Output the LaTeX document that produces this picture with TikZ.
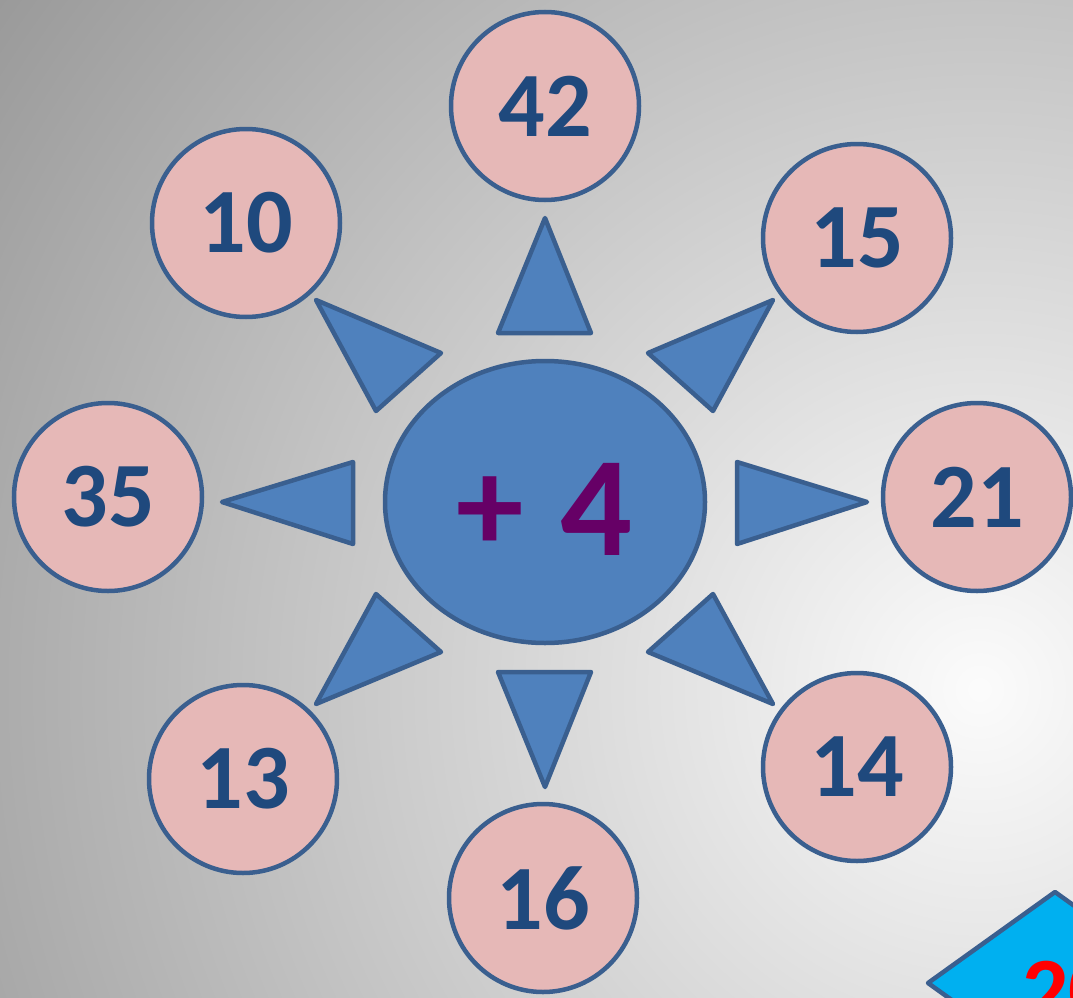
\documentclass[tikz,border=0pt]{standalone}
\usepackage{fontspec}
\setmainfont{Carlito}
\usepackage{tikz}
\usetikzlibrary{positioning,calc,shapes.geometric}

\definecolor{bgdark}{RGB}{152,152,152}
\definecolor{bglight}{RGB}{252,252,252}
\definecolor{pinkfill}{RGB}{230,184,183}
\definecolor{blueline}{RGB}{58,95,143}
\definecolor{numblue}{RGB}{31,73,125}
\definecolor{sunblue}{RGB}{79,129,189}
\definecolor{plum}{RGB}{102,0,102}
\definecolor{cyanfill}{RGB}{0,176,240}

\tikzset{
  numcircle/.style={circle, draw=blueline, line width=4.5pt, fill=pinkfill,
    minimum size=188pt, inner sep=0pt, text=numblue,
    font=\fontsize{92}{92}\selectfont\bfseries},
  ray/.style={draw=blueline, line width=4.5pt, fill=sunblue, line join=round},
}

\begin{document}
\begin{tikzpicture}[x=1pt,y=-1pt]
    % Background
    \useasboundingbox (0,0) rectangle (1073,998);
    \begin{scope}
      \clip (0,0) rectangle (1073,998);
      \fill[bgdark] (0,0) rectangle (1073,998);
      \foreach \i in {0,...,99} {
        \pgfmathsetmacro{\rad}{1230*(1-\i/100)}
        \fill[bglight!\i!bgdark] (980,690) circle (\rad);
      }
    \end{scope}
    % Centre
    \node[ellipse, draw=blueline, line width=4.5pt, fill=sunblue,
      minimum width=320pt, minimum height=282pt, inner sep=0pt] (centre) at (545,502) {};
    \node[text=plum, font=\bfseries] (plus) at (490,514) {\fontsize{135}{135}\selectfont +};
    \node[text=plum, font=\bfseries] (four) at (596,509) {\fontsize{142}{142}\selectfont 4};
    % Rays
    \draw[ray] (545,218) -- (498,333) -- (591,333) -- cycle;
    \draw[ray] (498,672) -- (591,672) -- (545,787) -- cycle;
    \draw[ray] (222,502) -- (353,462) -- (353,544) -- cycle;
    \draw[ray] (737,462) -- (737,544) -- (867,502) -- cycle;
    \draw[ray] (316,300) -- (441,353) -- (376,411) -- cycle;
    \draw[ray] (773,300) -- (648,353) -- (713,411) -- cycle;
    \draw[ray] (376,594) -- (441,652) -- (316,704) -- cycle;
    \draw[ray] (713,594) -- (648,652) -- (773,704) -- cycle;
    % Numbers
    \foreach \name/\x/\y/\val in {top/545/106/42, topleft/246/223/10,
      topright/857/238/15, left/108/497/35, right/977/497/21,
      botleft/243/779/13, bottom/543/898/16, botright/857/767/14} {
      \node[numcircle] (\name) at (\x,\y) {\val};
    }
    % Corner button
    \draw[draw=blueline, line width=4.5pt, fill=cyanfill, line join=round]
      (1055,892) -- (928,983) -- (1055,1074) -- (1182,983) -- cycle;
    \node[anchor=base west, inner sep=0pt, text=red,
      font=\fontsize{92}{92}\selectfont\bfseries] (btn) at (1022,1021) {20};
  \end{tikzpicture}
\end{document}
